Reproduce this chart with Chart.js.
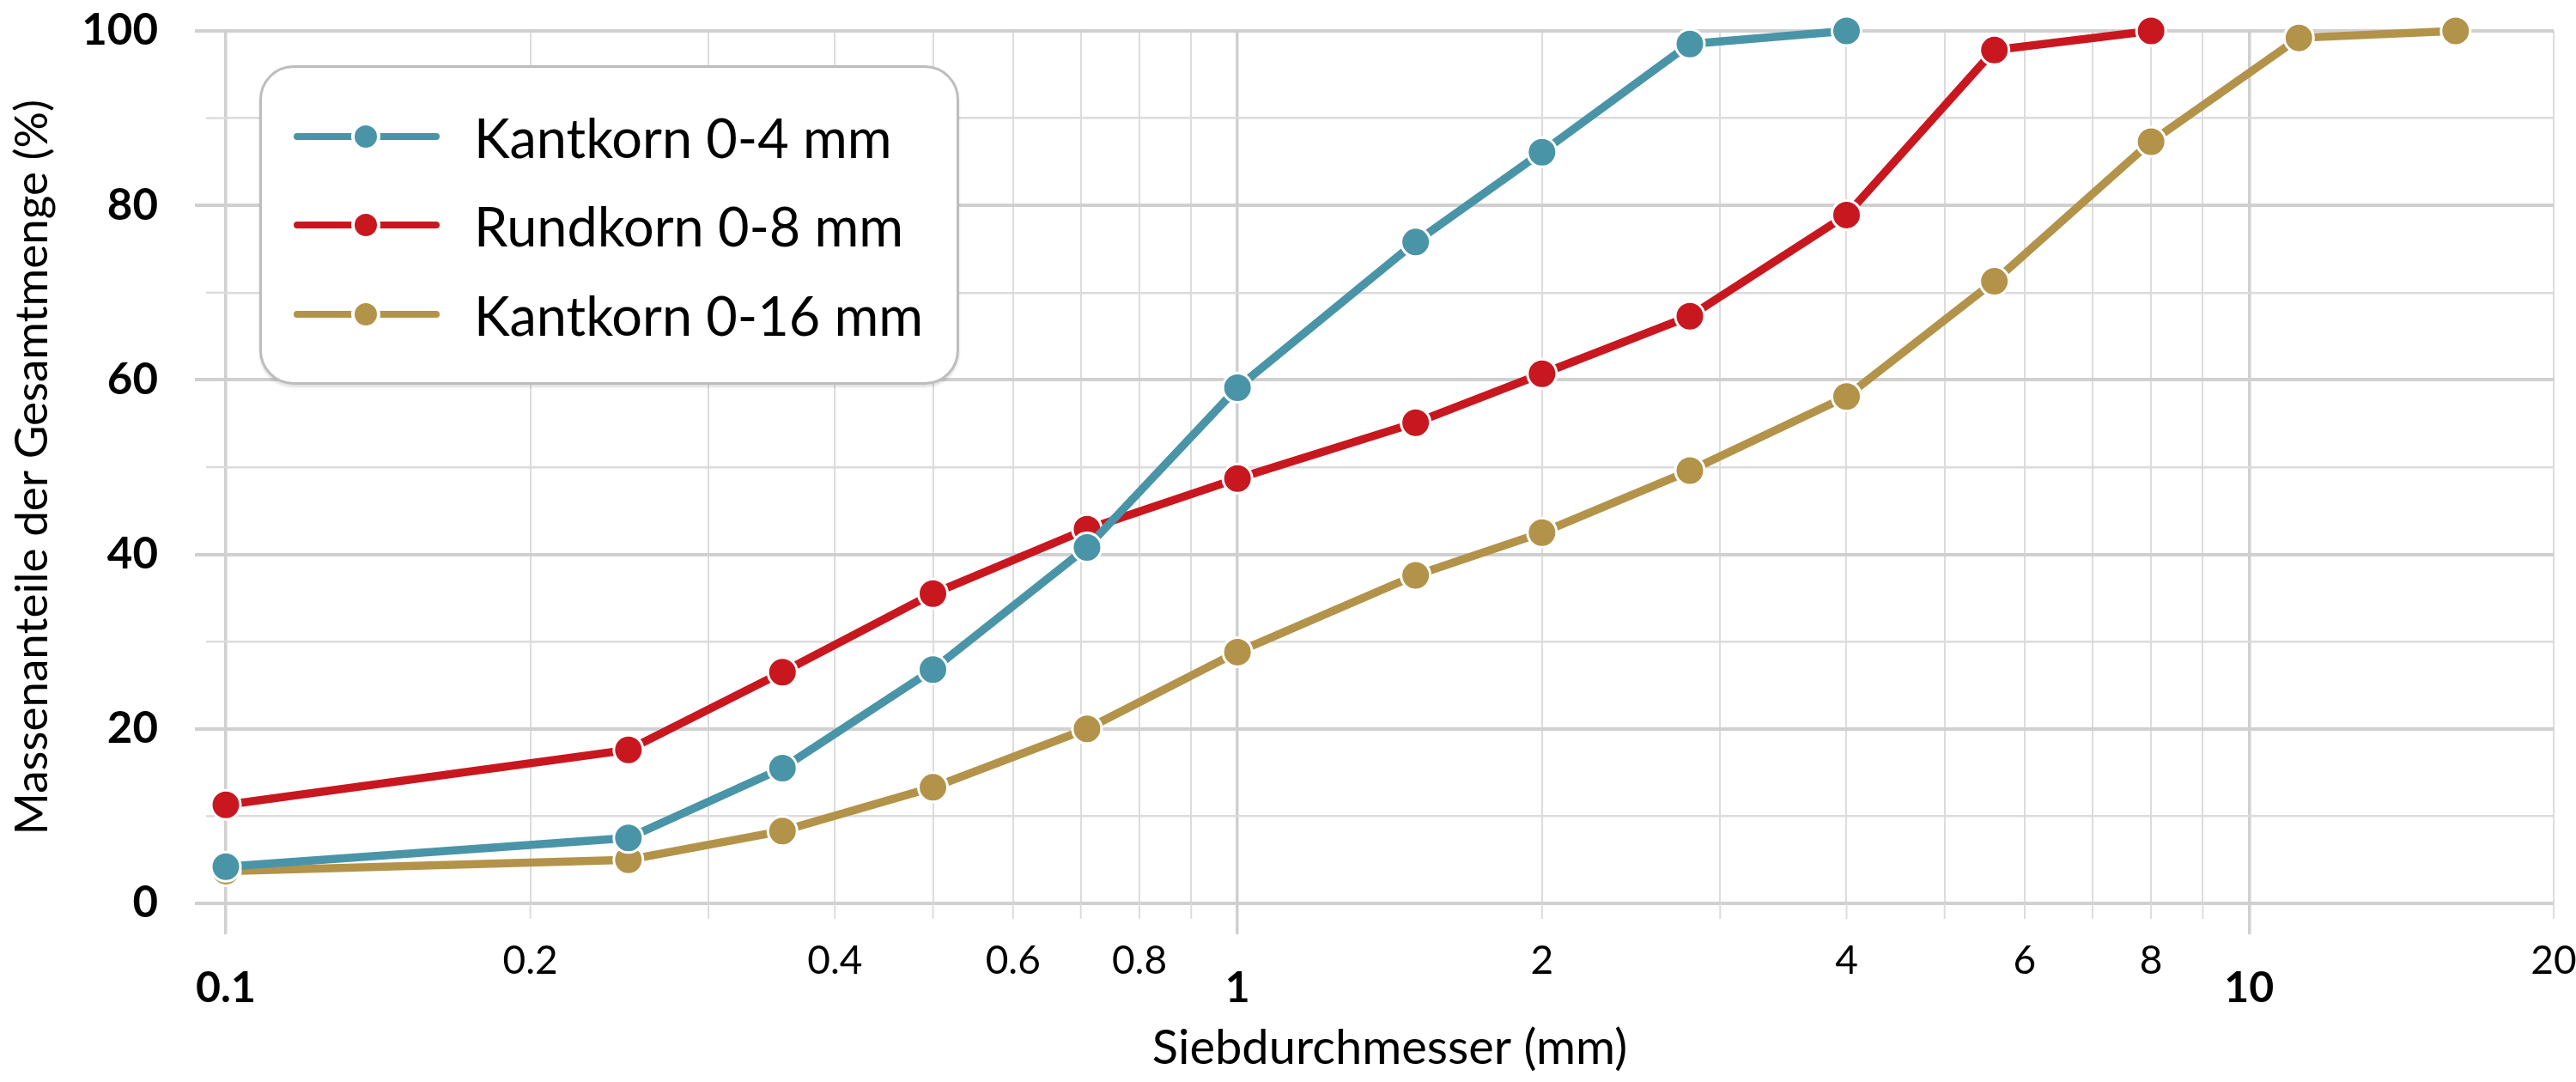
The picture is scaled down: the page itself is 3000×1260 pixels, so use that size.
<!DOCTYPE html>
<html>
<head>
<meta charset="utf-8">
<script src="https://cdn.jsdelivr.net/npm/chart.js@4.4.1/dist/chart.umd.min.js"></script>
<style>
  html, body { margin: 0; padding: 0; background: #ffffff; }
  #wrap { position: relative; width: 3000px; height: 1260px; overflow: hidden; background: #fff; }
  #chart { position: absolute; left: 0; top: 0; }
  #legend {
    position: absolute; left: 302px; top: 76px; width: 809px; height: 366px;
    border: 3px solid #bdbdbd; border-radius: 40px; background: #ffffff;
    box-shadow: 0 3px 3px rgba(0,0,0,0.12);
    font-family: Lato, "Open Sans", sans-serif; font-size: 63px; color: #000;
  }
  .lrow { position: absolute; left: 0; height: 100px; display: flex; align-items: center; }
  .lrow svg { position: absolute; left: 37px; top: 30px; }
  .lrow span { position: absolute; left: 247px; top: 50%; transform: translateY(-50%); white-space: nowrap; line-height: 1; }
</style>
</head>
<body>
<div id="wrap">
  <canvas id="chart" width="3000" height="1260"></canvas>
  <div id="legend"></div>
</div>
<script>
// ---- data ----
const sieveSizes = [0.1, 0.25, 0.355, 0.5, 0.71, 1, 1.5, 2, 2.8, 4, 5.6, 8, 11.2, 16];
const seriesNames = ['Kantkorn 0-4 mm', 'Rundkorn 0-8 mm', 'Kantkorn 0-16 mm'];
const kantkorn04  = [4.2, 7.5, 15.5, 26.8, 40.8, 59.1, 75.8, 86.1, 98.5, 100];
const rundkorn08  = [11.3, 17.6, 26.5, 35.5, 42.9, 48.7, 55.1, 60.7, 67.3, 78.9, 97.8, 100];
const kantkorn016 = [3.7, 5.0, 8.3, 13.3, 20.0, 28.8, 37.6, 42.5, 49.6, 58.1, 71.3, 87.3, 99.2, 100];
const seriesColors = ['#4a94a8', '#c8171f', '#b39349'];
const xTickValues = [0.1, 0.2, 0.3, 0.4, 0.5, 0.6, 0.7, 0.8, 0.9, 1, 2, 3, 4, 5, 6, 7, 8, 9, 10, 20];
const xTickLabels = ['0.1', '0.2', '0.4', '0.6', '0.8', '1', '2', '4', '6', '8', '10', '20'];
const xMajorTicks = [0.1, 1, 10];
const yTickValues = [0, 10, 20, 30, 40, 50, 60, 70, 80, 90, 100];
const yTickLabels = ['0', '20', '40', '60', '80', '100'];
const xTitle = 'Siebdurchmesser (mm)';
const yTitle = 'Massenanteile der Gesamtmenge (%)';

// ---- helpers ----
const near = (a, b) => Math.abs(a - b) < 1e-6 * Math.max(1, Math.abs(b));
const isXMajor = v => xMajorTicks.some(m => near(v, m));
const xLabelFor = v => { const s = xTickLabels.find(l => near(parseFloat(l), v)); return s === undefined ? '' : s; };
const isYMajor = v => yTickLabels.some(l => near(parseFloat(l), v));

const FONT = 'Lato, "Open Sans", sans-serif';
const MAJOR_GRID = '#d0d0d0';
const MINOR_GRID = '#dcdcdc';

const seriesValues = [kantkorn04, rundkorn08, kantkorn016];
const datasets = seriesValues.map((vals, i) => ({
  label: seriesNames[i],
  data: vals.map((y, j) => ({ x: sieveSizes[j], y })),
  borderColor: seriesColors[i],
  backgroundColor: seriesColors[i],
  pointBackgroundColor: seriesColors[i],
  pointBorderColor: '#ffffff',
  pointBorderWidth: 3,
  pointRadius: 17,
  pointHoverRadius: 17,
  borderWidth: 9.5,
  tension: 0,
  clip: false
}));

const minorTicks = {
  id: 'minorTicks',
  beforeDatasetsDraw(chart) {
    const { ctx, chartArea, scales } = chart;
    ctx.save();
    ctx.strokeStyle = MINOR_GRID;
    ctx.lineWidth = 2;
    scales.x.ticks.forEach(t => {
      if (isXMajor(t.value)) return;
      const px = scales.x.getPixelForValue(t.value);
      ctx.beginPath(); ctx.moveTo(px, chartArea.bottom); ctx.lineTo(px, chartArea.bottom + 18); ctx.stroke();
    });
    ctx.lineWidth = 2.5;
    scales.y.ticks.forEach(t => {
      if (isYMajor(t.value)) return;
      const py = scales.y.getPixelForValue(t.value);
      ctx.beginPath(); ctx.moveTo(chartArea.left - 23, py); ctx.lineTo(chartArea.left, py); ctx.stroke();
    });
    ctx.restore();
  }
};

new Chart(document.getElementById('chart'), {
  type: 'line',
  data: { datasets },
  plugins: [minorTicks],
  options: {
    responsive: false,
    devicePixelRatio: 1,
    animation: false,
    events: [],
    layout: { padding: { top: 36, right: 26, bottom: 0, left: 0 } },
    plugins: { legend: { display: false }, tooltip: { enabled: false } },
    scales: {
      x: {
        type: 'logarithmic',
        min: 0.1, max: 20,
        afterBuildTicks: s => { s.ticks = xTickValues.map(v => ({ value: v })); },
        afterFit: s => { s.height = 208; s.paddingLeft = 0; s.paddingRight = 0; },
        border: { display: false },
        grid: {
          drawOnChartArea: true,
          tickLength: 36,
          color: c => isXMajor(c.tick.value) ? MAJOR_GRID : MINOR_GRID,
          lineWidth: c => isXMajor(c.tick.value) ? 3.5 : 2,
          tickColor: c => isXMajor(c.tick.value) ? MAJOR_GRID : 'rgba(0,0,0,0)',
          tickWidth: c => isXMajor(c.tick.value) ? 3.5 : 2
        },
        ticks: {
          autoSkip: false, maxRotation: 0, minRotation: 0, padding: 4,
          color: '#000',
          callback: v => xLabelFor(v),
          font: c => isXMajor(c.tick.value)
            ? { family: FONT, size: 50, weight: 'bold', lineHeight: 2.36 }
            : { family: FONT, size: 46, weight: 'normal', lineHeight: 1.2 }
        },
        title: {
          display: true, text: xTitle, color: '#000',
          font: { family: FONT, size: 56 }, padding: { top: 0, bottom: 5 }
        }
      },
      y: {
        type: 'linear',
        min: 0, max: 100,
        afterBuildTicks: s => { s.ticks = yTickValues.map(v => ({ value: v })); },
        afterFit: s => { s.width = 263; s.paddingTop = 0; s.paddingBottom = 0; },
        border: { display: false },
        grid: {
          tickLength: 36,
          color: c => isYMajor(c.tick.value) ? MAJOR_GRID : MINOR_GRID,
          lineWidth: c => isYMajor(c.tick.value) ? 4 : 2.5,
          tickColor: c => isYMajor(c.tick.value) ? MAJOR_GRID : 'rgba(0,0,0,0)',
          tickWidth: c => isYMajor(c.tick.value) ? 4 : 2.5
        },
        ticks: {
          padding: 43, color: '#000',
          callback: v => isYMajor(v) ? String(v) : '',
          font: { family: FONT, size: 51, weight: 'bold' }
        },
        title: {
          display: true, text: yTitle, color: '#000',
          font: { family: FONT, size: 53 }, padding: { top: 6, bottom: 0 }
        }
      }
    }
  }
});

// ---- legend (HTML, built from the series arrays) ----
const legend = document.getElementById('legend');
const rowTops = [30, 133, 237];
seriesNames.forEach((name, i) => {
  const row = document.createElement('div');
  row.className = 'lrow';
  row.style.top = rowTops[i] + 'px';
  row.style.width = '100%';
  const c = seriesColors[i];
  row.innerHTML =
    '<svg width="170" height="40" viewBox="0 0 170 40">' +
    '<line x1="4" y1="20" x2="166" y2="20" stroke="' + c + '" stroke-width="8" stroke-linecap="round"/>' +
    '<circle cx="84" cy="20" r="15" fill="' + c + '" stroke="#ffffff" stroke-width="4"/></svg>' +
    '<span>' + name + '</span>';
  legend.appendChild(row);
});
</script>
</body>
</html>
